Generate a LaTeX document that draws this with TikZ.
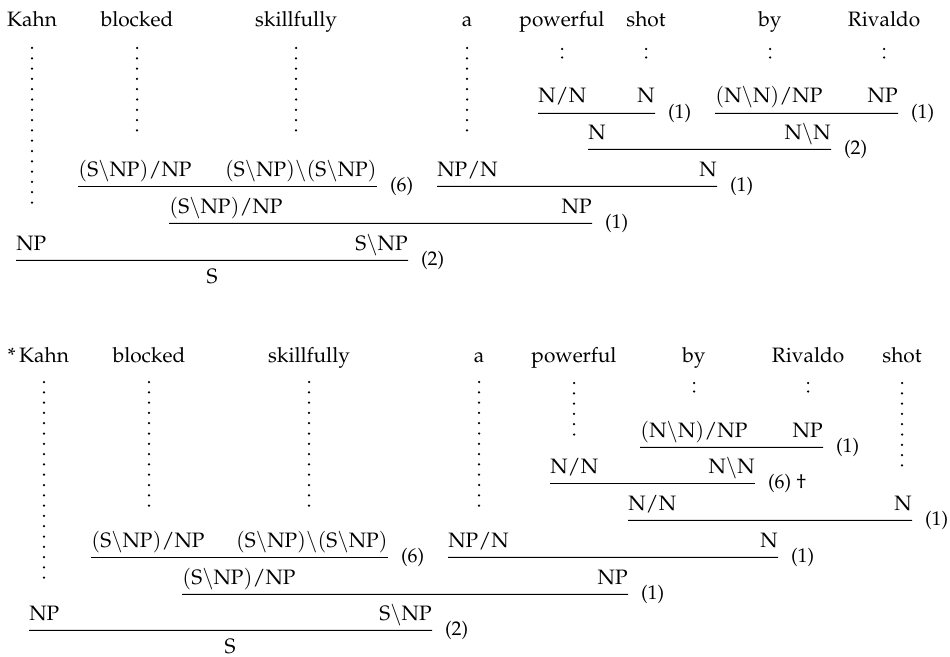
\documentclass[tikz,border=0pt]{standalone}
\usepackage[T1]{fontenc}
\usepackage{mathpazo}
\newcommand{\cat}[1]{$\mathrm{#1}$}
\newcommand{\bs}{\backslash}
\begin{document}
\begin{tikzpicture}[x=0.48pt,y=-0.48pt]
		\tikzstyle{word}=[anchor=base,inner sep=0pt]
		\tikzstyle{cat}=[inner sep=0pt,text depth=4.8pt]
		\tikzstyle{catl}=[cat,anchor=base west]
		\tikzstyle{catr}=[cat,anchor=base east]
		\tikzstyle{bar}=[line width=0.55pt]
		\tikzstyle{rule}=[anchor=west,inner sep=0pt,xshift=6pt,font=\fontsize{9.5}{11}\selectfont]
		\tikzstyle{dots}=[line width=1.2pt,line cap=round,dash pattern=on 0pt off 4.944pt]
		\tikzstyle{pair}=[line width=1.2pt,line cap=round,dash pattern=on 0pt off 4.08pt]
		\useasboundingbox (0,0) rectangle (950,656);
		% first derivation
		\node[word] (t_1) at (32,27) {Kahn};
		\node[word] (t_2) at (137,27) {blocked};
		\node[word] (t_3) at (296,27) {skillfully};
		\node[word] (t_4) at (467,27) {a};
		\node[word] (t_5) at (562,27) {powerful};
		\node[word] (t_6) at (646,27) {shot};
		\node[word] (t_7) at (770,27) {by};
		\node[word] (t_8) at (884,27) {Rivaldo};
		\draw[dots] (t_1.base) ++(0,21) -- ++(0,155);
		\draw[dots] (t_2.base) ++(0,21) -- ++(0,83) (t_3.base) ++(0,21) -- ++(0,83) (t_4.base) ++(0,21) -- ++(0,83);
		\draw[pair] (t_5.base) ++(0,22) -- ++(0,9) (t_6.base) ++(0,22) -- ++(0,9) (t_7.base) ++(0,22) -- ++(0,9) (t_8.base) ++(0,22) -- ++(0,9);
		\node[catl] (c_1) at (538,103) {\cat{N/N}};
		\node[catr] (c_2) at (655,103) {\cat{N}};
		\node[catl] (c_3) at (715,103) {\cat{(N\bs N)/NP}};
		\node[catr] (c_4) at (898,103) {\cat{NP}};
		\node[catl] (c_5) at (588,139) {\cat{N}};
		\node[catr] (c_6) at (831,139) {\cat{N\bs N}};
		\node[catl] (c_7) at (437,176) {\cat{NP/N}};
		\node[catr] (c_8) at (717,176) {\cat{N}};
		\node[catl] (c_9) at (78,176) {\cat{(S\bs NP)/NP}};
		\node[catr] (c_10) at (377,176) {\cat{(S\bs NP)\bs(S\bs NP)}};
		\node[catl] (c_11) at (169,213) {\cat{(S\bs NP)/NP}};
		\node[catr] (c_12) at (592,213) {\cat{NP}};
		\node[catl] (c_13) at (16,250) {\cat{NP}};
		\node[catr] (c_14) at (408,250) {\cat{S\bs NP}};
		\node[cat,anchor=base] (c_15) at (212,283) {\cat{S}};
		\draw[bar] (c_1.south west) -- (c_2.south east) node[rule] {(1)};
		\draw[bar] (c_3.south west) -- (c_4.south east) node[rule] {(1)};
		\draw[bar] (c_5.south west) -- (c_6.south east) node[rule] {(2)};
		\draw[bar] (c_7.south west) -- (c_8.south east) node[rule] {(1)};
		\draw[bar] (c_9.south west) -- (c_10.south east) node[rule] {(6)};
		\draw[bar] (c_11.south west) -- (c_12.south east) node[rule] {(1)};
		\draw[bar] (c_13.south west) -- (c_14.south east) node[rule] {(2)};
		% second derivation
		\node[word] (u_1) at (44,362) {\llap{*\,}Kahn};
		\node[word] (u_2) at (149,362) {blocked};
		\node[word] (u_3) at (309,362) {skillfully};
		\node[word] (u_4) at (479,362) {a};
		\node[word] (u_5) at (574,362) {powerful};
		\node[word] (u_6) at (694,362) {by};
		\node[word] (u_7) at (808,362) {Rivaldo};
		\node[word] (u_8) at (902,362) {shot};
		\draw[dots] (u_1.base) ++(0,20) -- ++(0,196);
		\draw[dots] (u_2.base) ++(0,20) -- ++(0,124) (u_3.base) ++(0,20) -- ++(0,124) (u_4.base) ++(0,20) -- ++(0,124);
		\draw[dots] (u_5.base) ++(0,21) -- ++(0,52) (u_8.base) ++(0,21) -- ++(0,83);
		\draw[pair] (u_6.base) ++(0,21) -- ++(0,9) (u_7.base) ++(0,21) -- ++(0,9);
		\node[catl] (d_1) at (640,437) {\cat{(N\bs N)/NP}};
		\node[catr] (d_2) at (823,437) {\cat{NP}};
		\node[catl] (d_3) at (550,473) {\cat{N/N}};
		\node[catr] (d_4) at (755,473) {\cat{N\bs N}};
		\node[catl] (d_5) at (628,510) {\cat{N/N}};
		\node[catr] (d_6) at (912,510) {\cat{N}};
		\node[catl] (d_7) at (448,547) {\cat{NP/N}};
		\node[catr] (d_8) at (778,547) {\cat{N}};
		\node[catl] (d_9) at (91,547) {\cat{(S\bs NP)/NP}};
		\node[catr] (d_10) at (388,547) {\cat{(S\bs NP)\bs(S\bs NP)}};
		\node[catl] (d_11) at (182,584) {\cat{(S\bs NP)/NP}};
		\node[catr] (d_12) at (628,584) {\cat{NP}};
		\node[catl] (d_13) at (29,620) {\cat{NP}};
		\node[catr] (d_14) at (432,620) {\cat{S\bs NP}};
		\node[cat,anchor=base] (d_15) at (230,653) {\cat{S}};
		\draw[bar] (d_1.south west) -- (d_2.south east) node[rule] {(1)};
		\draw[bar] (d_3.south west) -- (d_4.south east) node[rule] {(6) $\dagger$};
		\draw[bar] (d_5.south west) -- (d_6.south east) node[rule] {(1)};
		\draw[bar] (d_7.south west) -- (d_8.south east) node[rule] {(1)};
		\draw[bar] (d_9.south west) -- (d_10.south east) node[rule] {(6)};
		\draw[bar] (d_11.south west) -- (d_12.south east) node[rule] {(1)};
		\draw[bar] (d_13.south west) -- (d_14.south east) node[rule] {(2)};
	\end{tikzpicture}
\end{document}
